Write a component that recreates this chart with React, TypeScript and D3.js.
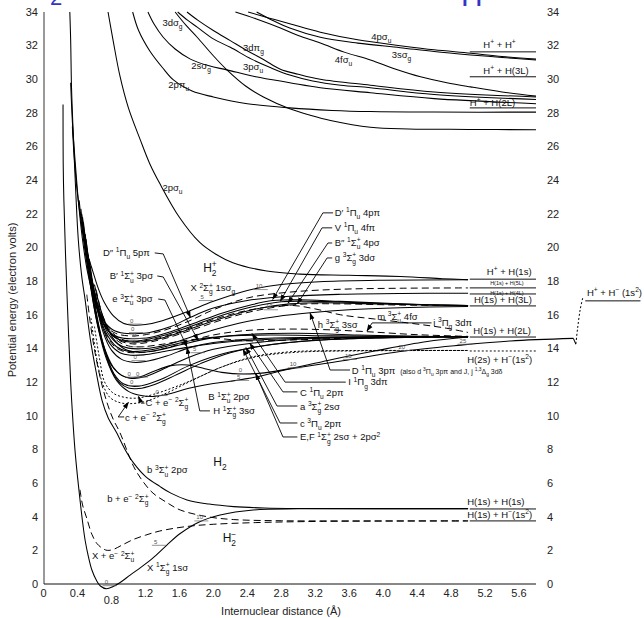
import React from "react";
import * as d3 from "d3";

type P = [number, number];

// axis ticks
const xTicks = [0, 0.4, 0.8, 1.2, 1.6, 2.0, 2.4, 2.8, 3.2, 3.6, 4.0, 4.4, 4.8, 5.2, 5.6];
const xTickText = ["0", "0.4", "0.8", "1.2", "1.6", "2.0", "2.4", "2.8", "3.2", "3.6", "4.0", "4.4", "4.8", "5.2", "5.6"];
const yTicks = [0, 2, 4, 6, 8, 10, 12, 14, 16, 18, 20, 22, 24, 26, 28, 30, 32, 34];

// ---- potential curves, [R (Å), E (eV)] ----
// H2+ and its excited states
const h2pX: P[] = [[0.34,27.2],[0.36,25.5],[0.4,23.2],[0.46,21.0],[0.52,19.6],[0.58,18.6],[0.65,17.5],[0.72,16.7],[0.82,15.95],[0.94,15.5],[1.06,15.38],[1.2,15.42],[1.4,15.65],[1.7,16.2],[2.0,16.8],[2.4,17.45],[2.8,17.8],[3.3,17.98],[4.0,18.06],[5.0,18.08]];
const h2p2pSu: P[] = [[0.76,34],[0.82,32.3],[0.9,30.2],[1.0,28.3],[1.14,26.4],[1.25,25.0],[1.37,23.8],[1.6,21.8],[1.84,20.3],[2.03,19.6],[2.23,19.1],[2.63,18.6],[3.02,18.42],[3.6,18.35],[4.2,18.28],[4.7,18.15],[5.0,18.08]];
const h2p2pPu: P[] = [[1.05,34],[1.12,32.9],[1.25,31.7],[1.4,30.7],[1.53,29.96],[1.75,29.3],[2.0,28.95],[2.4,28.55],[2.9,28.3],[3.4,28.15],[3.85,28.08],[4.6,28.05],[5.8,28.05]];
const h2p2sSg: P[] = [[1.23,34],[1.3,33.3],[1.41,32.5],[1.55,31.8],[1.73,31.2],[1.95,30.8],[2.16,30.56],[2.5,30.15],[2.9,29.8],[3.26,29.5],[3.85,29.2],[4.6,28.85],[5.8,28.55]];
const h2p3dSg: P[] = [[1.55,34],[1.68,33.2],[1.81,32.5],[2.0,31.4],[2.16,30.56],[2.38,29.6],[2.59,28.95],[2.9,28.25],[3.15,27.85],[3.38,27.55],[3.85,27.15],[4.3,27.05],[5.0,27.02],[5.8,27.0]];
const h2p3dPg: P[] = [[1.58,34],[1.7,33.5],[1.81,33.1],[2.0,32.4],[2.2,31.9],[2.45,31.2],[2.67,30.7],[2.9,30.25],[3.17,29.9],[3.5,29.65],[3.85,29.5],[4.6,29.1],[5.8,28.8]];
const h2p3pSu: P[] = [[1.69,34],[1.82,33.5],[2.0,32.9],[2.2,32.3],[2.4,31.7],[2.6,31.15],[2.79,30.6],[3.0,30.3],[3.26,30.0],[3.85,29.65],[4.6,29.25],[5.8,28.95]];
const h2p4fSu: P[] = [[2.26,34],[2.5,33.6],[2.79,33.05],[3.0,32.6],[3.26,32.16],[3.55,31.6],[3.85,31.15],[4.15,30.6],[4.44,30.15],[4.75,29.8],[5.03,29.55],[5.4,29.25],[5.8,29.0]];
const h2p4pSu: P[] = [[2.41,34],[2.65,33.65],[2.9,33.3],[3.26,32.8],[3.7,32.35],[4.2,32.0],[4.6,31.75],[5.03,31.55],[5.4,31.35],[5.8,31.2]];
const h2p3sSg: P[] = [[2.51,34],[2.7,33.5],[2.9,33.05],[3.26,32.5],[3.7,32.15],[4.2,31.88],[4.6,31.65],[5.03,31.45],[5.4,31.3],[5.8,31.15]];

// H2 and H2-
const groundX: P[] = [[0.23,28.5],[0.232,25],[0.24,22.8],[0.26,19.5],[0.29,15.5],[0.32,12],[0.34,10.2],[0.37,8.0],[0.4,6.4],[0.43,5.0],[0.46,3.7],[0.49,2.6],[0.53,1.6],[0.57,0.83],[0.62,0.25],[0.67,-0.12],[0.74,-0.28],[0.82,-0.15],[0.92,0.15],[1.02,0.53],[1.15,1.0],[1.29,1.55],[1.45,2.3],[1.61,3.0],[1.84,3.7],[2.08,4.1],[2.47,4.4],[3.0,4.47],[3.6,4.48],[5.0,4.48]];
const bState: P[] = [[0.31,34],[0.32,32.3],[0.33,29.5],[0.35,26.8],[0.38,23.3],[0.41,20.45],[0.45,18.3],[0.49,16.9],[0.55,14.6],[0.62,12.6],[0.69,10.9],[0.76,9.9],[0.86,9.0],[0.96,8.0],[1.06,7.2],[1.2,6.4],[1.37,5.8],[1.5,5.4],[1.69,5.0],[1.95,4.75],[2.24,4.6],[2.6,4.52],[3.0,4.49],[5.0,4.48]];
const bPlusE: P[] = [[0.51,17.2],[0.56,15.2],[0.62,13.4],[0.69,11.8],[0.76,10.6],[0.82,9.8],[0.9,9.0],[1.06,7.0],[1.17,6.1],[1.29,5.4],[1.45,4.85],[1.61,4.4],[1.93,4.0],[2.24,3.83],[2.8,3.76],[3.5,3.75],[5.0,3.75]];
const xPlusE: P[] = [[0.43,5.6],[0.46,4.7],[0.51,3.9],[0.57,2.95],[0.63,2.4],[0.7,2.1],[0.75,2.0],[0.82,2.05],[0.92,2.3],[1.06,2.65],[1.2,2.9],[1.37,3.15],[1.69,3.42],[2.0,3.55],[2.5,3.65],[3.26,3.72],[5.0,3.75]];
const ryd5: P[] = [[0.32,29.8],[0.34,27.5],[0.37,25.3],[0.41,22.8],[0.46,20.45],[0.52,18.5],[0.6,16.9],[0.7,15.7],[0.82,15.1],[0.95,14.9],[1.08,14.88],[1.25,14.95],[1.5,15.3],[1.73,15.85],[2.0,16.4],[2.4,16.85],[2.9,17.1],[3.5,17.22],[4.2,17.27],[5.0,17.28]];
const ryd5t: P[] = [[0.55,18.0],[0.62,16.5],[0.72,15.4],[0.85,14.9],[1.0,14.75],[1.15,14.78],[1.4,15.05],[1.7,15.6],[2.0,16.3],[2.4,17.0],[2.9,17.35],[3.5,17.52],[4.2,17.58],[5.0,17.6]];
const dPrime: P[] = [[0.42,22.8],[0.47,20.5],[0.53,18.5],[0.6,16.9],[0.7,15.5],[0.82,14.8],[0.95,14.6],[1.08,14.58],[1.25,14.65],[1.5,15.0],[1.8,15.55],[2.1,16.1],[2.45,16.6],[2.7,16.85],[3.0,16.9],[3.5,16.8],[4.2,16.65],[5.0,16.55]];
const vState: P[] = [[0.45,21.8],[0.5,19.8],[0.56,18.0],[0.64,16.4],[0.74,15.2],[0.86,14.6],[1.0,14.45],[1.15,14.47],[1.4,14.75],[1.7,15.25],[2.0,15.8],[2.4,16.4],[2.8,16.78],[3.2,16.8],[3.8,16.7],[4.5,16.6],[5.0,16.55]];
const bDouble: P[] = [[0.48,21.0],[0.53,19.2],[0.6,17.4],[0.68,16.0],[0.78,15.0],[0.9,14.5],[1.03,14.38],[1.2,14.42],[1.45,14.7],[1.75,15.2],[2.1,15.8],[2.5,16.35],[2.9,16.65],[3.3,16.72],[3.9,16.65],[4.5,16.58],[5.0,16.55]];
const gState: P[] = [[0.55,18.6],[0.62,17.0],[0.72,15.5],[0.85,14.6],[1.0,14.3],[1.15,14.3],[1.4,14.55],[1.75,15.1],[2.1,15.7],[2.5,16.25],[3.0,16.62],[3.5,16.65],[4.2,16.58],[5.0,16.55]];
const dState: P[] = [[0.47,21.5],[0.52,19.5],[0.58,17.7],[0.66,16.1],[0.76,14.9],[0.88,14.25],[1.0,14.02],[1.15,13.98],[1.35,14.1],[1.6,14.45],[1.9,14.95],[2.3,15.5],[2.75,15.9],[3.14,16.12],[3.6,16.3],[4.2,16.42],[5.0,16.5]];
const bPrime: P[] = [[0.5,20.5],[0.56,18.3],[0.64,16.3],[0.74,14.9],[0.86,14.1],[0.98,13.85],[1.12,13.83],[1.3,13.95],[1.55,14.25],[1.82,14.55],[2.2,14.75],[2.7,14.8],[3.4,14.75],[4.2,14.72],[5.0,14.7]];
const hState: P[] = [[0.56,18.2],[0.63,16.4],[0.72,15.0],[0.84,14.1],[0.96,13.8],[1.1,13.75],[1.3,13.85],[1.6,14.25],[1.95,14.75],[2.35,15.05],[2.8,15.15],[3.3,15.12],[3.8,15.0],[4.4,14.82],[5.0,14.72]];
const mState: P[] = [[0.62,17.3],[0.7,15.9],[0.8,15.0],[0.92,14.55],[1.05,14.42],[1.25,14.5],[1.55,14.9],[1.9,15.55],[2.3,16.15],[2.7,16.5],[2.95,16.55],[3.2,16.35],[3.5,16.0],[3.9,15.75],[4.4,15.45],[4.75,15.2],[5.0,14.95]];
const iState: P[] = [[0.62,17.5],[0.72,15.6],[0.86,14.5],[1.0,14.15],[1.15,14.1],[1.4,14.25],[1.7,14.5],[2.0,14.6],[2.4,14.45],[2.9,14.5],[3.5,14.6],[4.2,14.66],[5.0,14.7]];
const iCapState: P[] = [[0.6,17.8],[0.7,15.9],[0.82,14.6],[0.96,13.95],[1.1,13.78],[1.3,13.85],[1.6,14.2],[1.95,14.6],[2.45,14.85],[3.0,14.9],[3.7,14.8],[4.4,14.73],[5.0,14.7]];
const hCapState: P[] = [[0.54,19.3],[0.6,17.3],[0.68,15.5],[0.78,14.3],[0.9,13.75],[1.03,13.6],[1.18,13.62],[1.4,13.8],[1.67,14.05],[2.0,14.3],[2.5,14.5],[3.2,14.62],[4.0,14.68],[5.0,14.7]];
const eState: P[] = [[0.49,20.8],[0.54,19.0],[0.61,16.9],[0.7,15.0],[0.8,13.9],[0.92,13.35],[1.05,13.18],[1.2,13.22],[1.45,13.55],[1.72,14.05],[2.0,14.35],[2.5,14.58],[3.2,14.66],[4.0,14.69],[5.0,14.7]];
const cCapState: P[] = [[0.44,22.3],[0.49,20.0],[0.55,17.8],[0.62,15.8],[0.7,14.2],[0.8,13.0],[0.92,12.4],[1.04,12.22],[1.18,12.3],[1.4,12.75],[1.7,13.45],[2.0,13.95],[2.43,14.3],[3.0,14.55],[3.8,14.66],[5.0,14.7]];
const efState: P[] = [[0.46,21.8],[0.51,19.6],[0.57,17.4],[0.64,15.5],[0.72,14.0],[0.82,12.9],[0.92,12.4],[1.02,12.25],[1.14,12.32],[1.3,12.65],[1.5,12.98],[1.7,13.02],[1.9,12.8],[2.1,12.58],[2.35,12.48],[2.6,12.55],[2.95,12.85],[3.4,13.35],[3.9,13.85],[4.5,14.4],[5.0,14.68]];
const aState: P[] = [[0.5,20.2],[0.55,18.2],[0.62,16.0],[0.7,14.2],[0.8,12.7],[0.9,11.95],[1.0,11.65],[1.12,11.62],[1.3,11.85],[1.55,12.4],[1.85,13.1],[2.2,13.75],[2.7,14.25],[3.3,14.52],[4.1,14.65],[5.0,14.7]];
const cState: P[] = [[0.52,19.6],[0.58,17.5],[0.65,15.4],[0.73,13.8],[0.83,12.5],[0.94,11.9],[1.05,11.75],[1.18,11.82],[1.4,12.2],[1.7,12.95],[2.05,13.6],[2.4,14.0],[2.9,14.35],[3.6,14.58],[4.4,14.67],[5.0,14.7]];
const bCapState: P[] = [[0.45,22.0],[0.5,20.0],[0.56,17.6],[0.64,15.3],[0.74,13.4],[0.86,12.1],[1.0,11.45],[1.15,11.2],[1.3,11.15],[1.5,11.32],[1.7,11.62],[2.0,11.92],[2.2,12.05],[2.5,12.3],[2.9,12.78],[3.57,13.3],[4.2,13.82],[4.91,14.2],[5.5,14.45],[6.24,14.6]];
const ionKink: P[] = [[6.24,14.6],[6.27,14.25]];
const ionRise: P[] = [[6.27,14.28],[6.29,15.2],[6.32,16.3],[6.35,17.0]];
const cCapPlusE: P[] = [[0.6,15.3],[0.66,13.4],[0.72,12.0],[0.82,11.35],[0.95,11.1],[1.1,11.05],[1.3,11.28],[1.67,11.95],[2.1,12.9],[2.46,13.5],[2.9,13.8],[3.5,13.87],[5.0,13.88]];
const cPlusE: P[] = [[0.56,15.8],[0.62,13.6],[0.69,12.0],[0.78,11.1],[0.9,10.78],[1.02,10.72],[1.2,10.85],[1.45,11.35],[1.75,12.1],[2.1,12.9],[2.5,13.5],[3.0,13.78],[3.8,13.86],[5.0,13.88]];

const solidCurves = [h2pX, h2p2pSu, h2p2pPu, h2p2sSg, h2p3dSg, h2p3dPg, h2p3pSu, h2p4fSu, h2p4pSu, h2p3sSg,
  groundX, bState, ryd5, dPrime, vState, bDouble, dState, bPrime, iCapState, hCapState, eState,
  cCapState, efState, aState, cState, bCapState, ionKink];
const dashedCurves = [bPlusE, xPlusE, ryd5t, gState, hState, mState, iState];
const dottedCurves = [cCapPlusE, cPlusE, ionRise];

// dissociation limits: [label, E]
const limitsHigh: [string, number][] = [["H^{+} + H^{+}", 31.63], ["H^{+} + H(3L)", 30.15], ["H^{+} + H(2L)", 28.3]];
const limitsLow: [string, number][] = [["H^{+} + H(1s)", 18.12], ["H(1s) + H(5L)", 17.6], ["H(1s) + H(4L)", 17.24], ["H(1s) + H(3L)", 16.53], ["H(1s) + H(2L)", 14.68], ["H(2s) + H^{−}(1s^{2})", 13.85], ["H(1s) + H(1s)", 4.46], ["H(1s) + H^{−}(1s^{2})", 3.75]];

// labels: [text, R, E(baseline), kind]
const labels: [string, number, number, string][] = [
  ["3dσ_{g}", 1.40, 33.17, "n"], ["2sσ_{g}", 1.74, 30.62, "n"], ["2pπ_{u}", 1.47, 29.49, "n"],
  ["3dπ_{g}", 2.35, 31.69, "n"], ["3pσ_{u}", 2.35, 30.56, "n"], ["4fσ_{u}", 3.43, 30.97, "n"],
  ["4pσ_{u}", 3.86, 32.34, "n"], ["3sσ_{g}", 4.10, 31.27, "n"], ["2pσ_{u}", 1.40, 23.36, "n"],
  ["H^{+} + H^{+}", 5.18, 31.87, "n"], ["H^{+} + H(3L)", 5.18, 30.32, "n"], ["H^{+} + H(2L)", 5.02, 28.4, "n"],
  ["H^{+} + H(1s)", 5.22, 18.37, "n"], ["H(1s) + H(5L)", 5.26, 17.76, "s"], ["H(1s) + H(4L)", 5.26, 17.15, "s"],
  ["H(1s) + H(3L)", 5.07, 16.71, "n"], ["H(1s) + H(2L)", 5.06, 14.86, "n"], ["H(2s) + H^{−}(1s^{2})", 4.99, 13.14, "n"],
  ["H(1s) + H(1s)", 4.99, 4.7, "n"], ["H(1s) + H^{−}(1s^{2})", 4.99, 3.92, "n"], ["H^{+} + H^{−} (1s^{2})", 6.40, 17.12, "n"],
  ["D″ ^{1}Π_{u} 5pπ", 0.70, 19.5, "n"], ["B′ ^{1}Σ_{u}^{+} 3pσ", 0.78, 18.1, "n"], ["e ^{3}Σ_{u}^{+} 3pσ", 0.81, 16.74, "n"],
  ["X ^{2}Σ_{g}^{+} 1sσ_{g}", 1.73, 17.39, "n"], ["H_{2}^{+}", 1.88, 18.55, "b"], ["B ^{1}Σ_{u}^{+} 2pσ", 1.94, 10.91, "n"],
  ["H ^{1}Σ_{g}^{+} 3sσ", 2.0, 10.08, "n"], ["C + e^{−} ^{2}Σ_{g}^{+}", 1.2, 10.61, "n"], ["c + e^{−} ^{2}Σ_{g}^{+}", 0.96, 9.69, "n"],
  ["b ^{3}Σ_{u}^{+} 2pσ", 1.22, 6.57, "n"], ["H_{2}", 2.0, 7.0, "b"], ["b + e^{−} ^{2}Σ_{g}^{+}", 0.75, 4.85, "n"],
  ["H_{2}^{−}", 2.11, 2.5, "b"], ["X + e^{−} ^{2}Σ_{u}^{+}", 0.57, 1.46, "n"], ["X ^{1}Σ_{g}^{+} 1sσ", 1.22, 0.8, "n"],
  ["D′ ^{1}Π_{u} 4pπ", 3.43, 21.88, "n"], ["V ^{1}Π_{u} 4fπ", 3.43, 20.99, "n"], ["B″ ^{1}Σ_{u}^{+} 4pσ", 3.43, 20.1, "n"],
  ["g ^{3}Σ_{g}^{+} 3dσ", 3.43, 19.2, "n"], ["h ^{3}Σ_{g}^{+} 3sσ", 3.23, 15.22, "n"], ["m ^{3}Σ_{u}^{+} 4fσ", 3.93, 15.72, "n"],
  ["i ^{3}Π_{g} 3dπ", 4.59, 15.34, "n"], ["D ^{1}Π_{u} 3pπ", 3.63, 12.51, "n"],
  ["(also d ^{3}Π_{u} 3pπ and J, j ^{1,3}Δ_{g} 3dδ", 4.2, 12.51, "m"],
  ["I ^{1}Π_{g} 3dπ", 3.59, 11.8, "n"], ["C ^{1}Π_{u} 2pπ", 3.02, 11.2, "n"], ["a ^{3}Σ_{g}^{+} 2sσ", 3.02, 10.37, "n"],
  ["c ^{3}Π_{u} 2pπ", 3.02, 9.36, "n"], ["E,F ^{1}Σ_{g}^{+} 2sσ + 2pσ^{2}", 3.02, 8.53, "n"],
];

// leader lines ending in an arrow
const leaders: P[][] = [
  [[1.31,19.68],[1.41,19.62],[1.73,15.85]],
  [[1.34,18.31],[1.41,18.25],[1.82,14.5]],
  [[1.35,16.94],[1.43,16.88],[1.69,14.1]],
  [[1.96,10.29],[1.84,10.29],[1.69,14.05]],
  [[1.19,10.75],[1.15,10.75],[1.12,11.15]],
  [[0.95,9.93],[0.88,9.93],[1.0,10.8]],
  [[3.41,22.06],[3.29,22.06],[2.70,16.92]],
  [[3.40,21.17],[3.28,21.17],[2.79,16.82]],
  [[3.40,20.27],[3.35,20.27],[2.88,16.7]],
  [[3.40,19.38],[3.34,19.38],[2.99,16.66]],
  [[3.61,12.72],[3.375,12.72],[3.14,16.1]],
  [[4.57,15.52],[3.87,15.52],[3.81,15.04]],
  [[3.56,12.0],[2.845,12.0],[2.456,14.88]],
  [[2.99,11.42],[2.82,11.42],[2.43,14.3]],
  [[2.99,10.58],[2.75,10.58],[2.385,14.05]],
  [[2.99,9.57],[2.786,9.57],[2.35,13.95]],
  [[2.99,8.74],[2.82,8.74],[2.50,12.5]],
];

// vibrational level marks: [v, R, E]
const vibMarks: [string, number, number][] = [
  ["0", 0.72, -0.1], ["5", 1.3, 2.3], ["10", 1.8, 3.75],
  ["0", 1.02, 15.45], ["5", 1.85, 16.85], ["10", 2.5, 17.5],
  ["0", 1.03, 14.95], ["0", 1.05, 14.6], ["0", 1.05, 14.1], ["0", 1.06, 13.28],
  ["0", 0.99, 12.3], ["0", 1.09, 12.3], ["0", 1.02, 11.8], ["0", 1.32, 11.2],
  ["5", 2.28, 12.1], ["10", 2.9, 12.85], ["15", 3.55, 13.35], ["20", 4.18, 13.88], ["25", 4.9, 14.25],
  ["0", 2.3, 12.5], ["5", 1.76, 13.75], ["10", 2.62, 16.3],
];

const FONT = "'Liberation Sans', Arial, Helvetica, sans-serif";

type Part = { t: string; k: "n" | "sub" | "sup" };
function parse(s: string): Part[] {
  const out: Part[] = [];
  const re = /([_^])\{([^}]*)\}/g;
  let last = 0;
  let m: RegExpExecArray | null;
  while ((m = re.exec(s))) {
    if (m.index > last) out.push({ t: s.slice(last, m.index), k: "n" });
    out.push({ t: m[2], k: m[1] === "_" ? "sub" : "sup" });
    last = re.lastIndex;
  }
  if (last < s.length) out.push({ t: s.slice(last), k: "n" });
  return out;
}

function Rich({ text, x, y, size }: { text: string; x: number; y: number; size: number }) {
  let shift = 0;
  let subW = 0;
  let prev = "n";
  const spans = parse(text).map((p, i) => {
    let target = 0;
    let fs = size;
    let dx = 0;
    if (p.k === "sub") { target = size * 0.32; fs = size * 0.7; }
    if (p.k === "sup") { target = -size * 0.4; fs = size * 0.7; if (prev === "sub") dx = -subW; }
    const dy = target - shift;
    shift = target;
    if (p.k === "sub") subW = p.t.length * fs * 0.56;
    prev = p.k;
    return (
      <tspan key={i} dy={dy} dx={dx || undefined} fontSize={fs}>{p.t}</tspan>
    );
  });
  return (
    <text x={x} y={y} fontSize={size} fill="#111" style={{ whiteSpace: "pre" }}>{spans}</text>
  );
}

export default function App() {
  const x = d3.scaleLinear().domain([0, 5.8]).range([43.5, 536]);
  const y = d3.scaleLinear().domain([0, 34]).range([584, 12]);
  const curve = d3.line<P>().x((d) => x(d[0])).y((d) => y(d[1])).curve(d3.curveCatmullRom.alpha(0.5));
  const straight = d3.line<P>().x((d) => x(d[0])).y((d) => y(d[1]));
  const sizes: Record<string, number> = { n: 9.5, s: 5.5, m: 7, b: 12 };

  return (
    <svg width={644} height={618} fontFamily={FONT}
      style={{ position: "absolute", left: 0, top: 0, background: "#fff" }}>
      <defs>
        <marker id="ah" viewBox="0 0 10 10" refX="9" refY="5" markerWidth="7" markerHeight="7"
          orient="auto" markerUnits="userSpaceOnUse">
          <path d="M0,1.5 L10,5 L0,8.5 z" fill="#000" />
        </marker>
      </defs>

      {/* clipped slide title */}
      <text x={50} y={5} fontSize={22} fill="#3434c4">2</text>
      <text x={461} y={6} fontSize={30} fill="#3434c4">H</text>

      {/* axes */}
      <line x1={44} x2={44} y1={y(0)} y2={y(34)} stroke="#808080" strokeWidth={1.6} />
      <line x1={44} x2={x(5.8)} y1={y(0)} y2={y(0)} stroke="#111" strokeWidth={1} />
      {xTicks.map((t, i) => (
        <text key={"xt" + i} x={x(t)} y={t === 0.8 ? 604 : 597} fontSize={11} textAnchor="middle" fill="#222">
          {xTickText[i]}
        </text>
      ))}
      {yTicks.map((t) => (
        <g key={"yt" + t}>
          <text x={38} y={y(t)} dy="0.35em" fontSize={11} textAnchor="end" fill="#222">{t}</text>
          <text x={547} y={y(t)} dy="0.35em" fontSize={11} textAnchor="start" fill="#222">{t}</text>
        </g>
      ))}
      <text x={281} y={615} fontSize={11} textAnchor="middle" fill="#222">Internuclear distance (Å)</text>
      <text transform="translate(16,300) rotate(-90)" fontSize={11} textAnchor="middle" fill="#222">
        Potential energy (electron volts)
      </text>

      {/* dissociation limits */}
      {limitsHigh.concat(limitsLow).map(([n, e]) => (
        <line key={"lim" + n} x1={x(5.02)} x2={x(5.8)} y1={y(e)} y2={y(e)}
          stroke="#111" strokeWidth={1} strokeDasharray={n.startsWith("H(2s)") ? "2,2" : undefined} />
      ))}
      <line x1={x(6.38)} x2={x(7.03)} y1={y(16.83)} y2={y(16.83)} stroke="#111" strokeWidth={1} />

      {/* curves */}
      <g fill="none" stroke="#000">
        {solidCurves.map((c, i) => (
          <path key={"s" + i} d={curve(c) ?? ""} strokeWidth={1.05} />
        ))}
        {dashedCurves.map((c, i) => (
          <path key={"d" + i} d={curve(c) ?? ""} strokeWidth={1} strokeDasharray="7,4" />
        ))}
        {dottedCurves.map((c, i) => (
          <path key={"o" + i} d={curve(c) ?? ""} strokeWidth={1} strokeDasharray="2,2" />
        ))}
      </g>

      {/* vibrational marks */}
      <g>
        {vibMarks.map(([v, r, e], i) => (
          <g key={"v" + i}>
            <line x1={x(r) - 2} x2={x(r) + 12} y1={y(e)} y2={y(e)} stroke="#666" strokeWidth={0.7} />
            <text x={x(r)} y={y(e) - 1.5} fontSize={6} fill="#555">{v}</text>
          </g>
        ))}
      </g>

      {/* leader lines */}
      <g fill="none" stroke="#000" strokeWidth={0.9}>
        {leaders.map((l, i) => (
          <path key={"l" + i} d={straight(l) ?? ""} markerEnd="url(#ah)" />
        ))}
      </g>

      {/* state labels */}
      {labels.map(([t, r, e, k], i) => (
        <Rich key={"lb" + i} text={t} x={x(r)} y={y(e)} size={sizes[k]} />
      ))}
    </svg>
  );
}
